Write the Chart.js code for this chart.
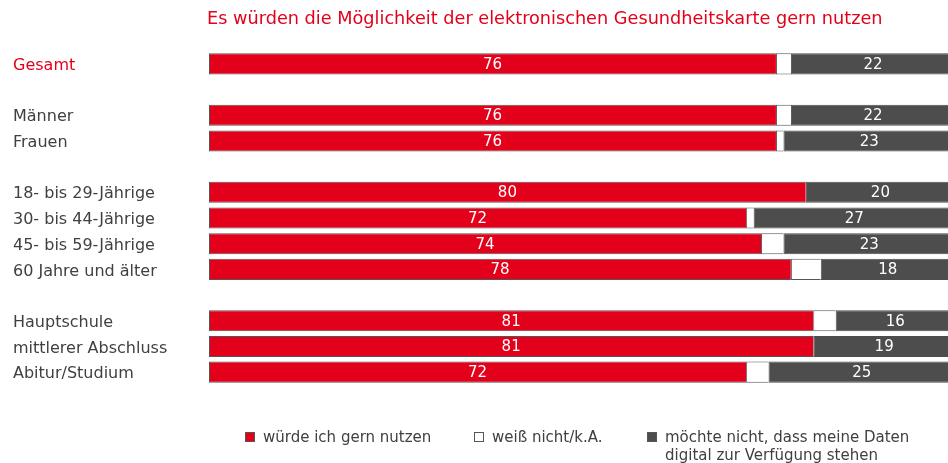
<!DOCTYPE html>
<html>
<head>
<meta charset="UTF-8" />
<script src="https://cdn.jsdelivr.net/npm/chart.js@4"></script>
<style>
  html, body { margin: 0; padding: 0; background: #fff; overflow: hidden; }
  body { width: 948px; height: 463px; position: relative; font-family: "DejaVu Sans", Verdana, sans-serif; }
  #wrap { position: absolute; left: 0; top: 0; width: 956px; height: 463px; }
  #title { position: absolute; left: 207px; top: 8px; font-size: 17.7px; color: #e2001a; white-space: nowrap; }
  #legend { position: absolute; top: 428px; left: 0; width: 948px; height: 35px; font-size: 15px; color: #404040; }
  .item { position: absolute; top: 0; line-height: 18px; }
  .box { position: absolute; left: 0; top: 4px; width: 8px; height: 8px; border: 1px solid #555; }
  .txt { position: absolute; left: 18px; top: 0; white-space: nowrap; }
</style>
</head>
<body>
<div id="wrap"><canvas id="chart"></canvas></div>
<div id="title">Es würden die Möglichkeit der elektronischen Gesundheitskarte gern nutzen</div>
<div id="legend"></div>
<script>
  // Kategorien (leere Einträge = Abstand zwischen den Gruppen)
  const categories = [
    "Gesamt", "",
    "Männer", "Frauen", "",
    "18- bis 29-Jährige", "30- bis 44-Jährige", "45- bis 59-Jährige", "60 Jahre und älter", "",
    "Hauptschule", "mittlerer Abschluss", "Abitur/Studium"
  ];

  const seriesNames = [
    "würde ich gern nutzen",
    "weiß nicht/k.A.",
    "möchte nicht, dass meine Daten digital zur Verfügung stehen"
  ];

  const gernNutzen = [76, null, 76, 76, null, 80, 72, 74, 78, null, 81, 81, 72];
  const weissNicht = [2, null, 2, 1, null, 0, 1, 3, 4, null, 3, 0, 3];
  const moechteNicht = [22, null, 22, 23, null, 20, 27, 23, 18, null, 16, 19, 25];

  const colors = ["#e2001a", "#ffffff", "#4d4d4d"];
  const labelColors = ["#ffffff", null, "#ffffff"];

  // Werte mittig in die Segmente schreiben
  const valueLabels = {
    id: "valueLabels",
    afterDatasetsDraw(chart) {
      const ctx = chart.ctx;
      ctx.save();
      ctx.font = '15px "DejaVu Sans", Verdana, sans-serif';
      ctx.textAlign = "center";
      ctx.textBaseline = "middle";
      chart.data.datasets.forEach((ds, di) => {
        if (!labelColors[di]) return;
        const meta = chart.getDatasetMeta(di);
        meta.data.forEach((bar, i) => {
          const v = ds.data[i];
          if (v == null || v === 0) return;
          ctx.fillStyle = labelColors[di];
          ctx.fillText(String(v), (bar.base + bar.x) / 2, bar.y + 1);
        });
      });
      ctx.restore();
    }
  };

  const datasets = [gernNutzen, weissNicht, moechteNicht].map((data, i) => ({
    label: seriesNames[i],
    data: data,
    backgroundColor: colors[i],
    borderColor: i === 2 ? "#4d4d4d" : "#555555",
    borderWidth: { top: 1, left: 1, bottom: 1, right: 0 },
    borderSkipped: false,
    barPercentage: 1,
    categoryPercentage: 0.82
  }));

  new Chart(document.getElementById("chart"), {
    type: "bar",
    data: { labels: categories, datasets: datasets },
    plugins: [valueLabels],
    options: {
      indexAxis: "y",
      responsive: true,
      maintainAspectRatio: false,
      animation: false,
      layout: { padding: { left: 13, right: 1, top: 51, bottom: 78 } },
      plugins: {
        legend: { display: false },
        title: { display: false },
        tooltip: { enabled: false }
      },
      scales: {
        x: { stacked: true, min: 0, max: 100, display: false },
        y: {
          stacked: true,
          grid: { display: false },
          border: { display: false },
          afterFit(scale) { scale.width = 196; },
          ticks: {
            crossAlign: "far",
            autoSkip: false,
            padding: 0,
            labelOffset: 2,
            font: { family: '"DejaVu Sans", Verdana, sans-serif', size: 16 },
            color: (c) => (c.index === 0 ? "#e2001a" : "#404040")
          }
        }
      }
    }
  });

  // Legende unter dem Diagramm
  const legendX = [245, 474, 647];
  const legend = document.getElementById("legend");
  seriesNames.forEach((name, i) => {
    const item = document.createElement("div");
    item.className = "item";
    item.style.left = legendX[i] + "px";
    const box = document.createElement("div");
    box.className = "box";
    box.style.background = colors[i];
    const txt = document.createElement("div");
    txt.className = "txt";
    if (i === 2) { txt.style.whiteSpace = "normal"; txt.style.width = "270px"; }
    txt.textContent = name;
    item.appendChild(box);
    item.appendChild(txt);
    legend.appendChild(item);
  });
</script>
</body>
</html>
